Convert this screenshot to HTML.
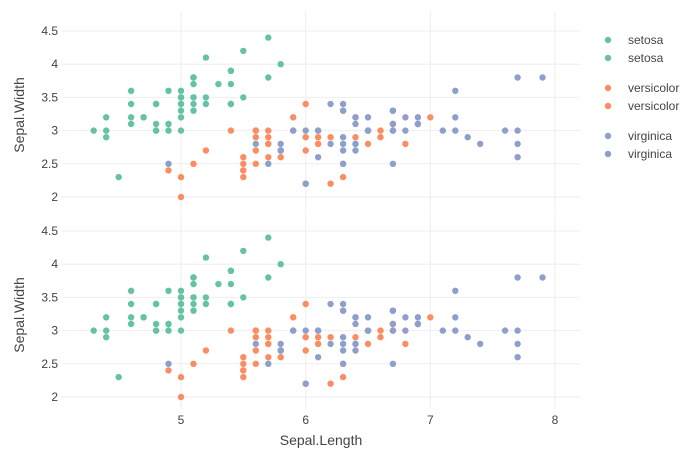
<!DOCTYPE html>
<html><head><meta charset="utf-8"><style>
body{margin:0;background:#fff}
svg text{font-family:"Liberation Sans",sans-serif;fill:#444}
</style></head><body>
<svg id="s" width="700" height="450" xmlns="http://www.w3.org/2000/svg"></svg>
<script>
var S=document.getElementById('s'),h='';
function X(v){return 181+(v-5)*124.67}
var panels=[197,397];
// grid
panels.forEach(function(b){
 [5,6,7,8].forEach(function(v){h+='<line x1="'+X(v)+'" x2="'+X(v)+'" y1="'+(b-186)+'" y2="'+(b+12)+'" stroke="#eee"/>';});
 [2,2.5,3,3.5,4,4.5].forEach(function(v){var y=b-(v-2)*66.4;h+='<line x1="62" x2="580" y1="'+y+'" y2="'+y+'" stroke="#eee"/><text x="58" y="'+(y+4)+'" font-size="12" text-anchor="end">'+v+'</text>';});
 h+='<text transform="translate(24,'+(b-82)+') rotate(-90)" font-size="14" text-anchor="middle">Sepal.Width</text>';
});
[5,6,7,8].forEach(function(v){h+='<text x="'+X(v)+'" y="424" font-size="12" text-anchor="middle">'+v+'</text>';});
h+='<text x="321" y="445" font-size="14" text-anchor="middle">Sepal.Length</text>';
var d={"#66c2a5":"5.1 3.5,4.9 3.0,4.7 3.2,4.6 3.1,5.0 3.6,5.4 3.9,4.6 3.4,5.0 3.4,4.4 2.9,4.9 3.1,5.4 3.7,4.8 3.4,4.8 3.0,4.3 3.0,5.8 4.0,5.7 4.4,5.4 3.9,5.1 3.5,5.7 3.8,5.1 3.8,5.4 3.4,5.1 3.7,4.6 3.6,5.1 3.3,4.8 3.4,5.0 3.0,5.0 3.4,5.2 3.5,5.2 3.4,4.7 3.2,4.8 3.1,5.4 3.4,5.2 4.1,5.5 4.2,4.9 3.1,5.0 3.2,5.5 3.5,4.9 3.6,4.4 3.0,5.1 3.4,5.0 3.5,4.5 2.3,4.4 3.2,5.0 3.5,5.1 3.8,4.8 3.0,5.1 3.8,4.6 3.2,5.3 3.7,5.0 3.3",
"#fc8d62":"7.0 3.2,6.4 3.2,6.9 3.1,5.5 2.3,6.5 2.8,5.7 2.8,6.3 3.3,4.9 2.4,6.6 2.9,5.2 2.7,5.0 2.0,5.9 3.0,6.0 2.2,6.1 2.9,5.6 2.9,6.7 3.1,5.6 3.0,5.8 2.7,6.2 2.2,5.6 2.5,5.9 3.2,6.1 2.8,6.3 2.5,6.1 2.8,6.4 2.9,6.6 3.0,6.8 2.8,6.7 3.0,6.0 2.9,5.7 2.6,5.5 2.4,5.5 2.4,5.8 2.7,6.0 2.7,5.4 3.0,6.0 3.4,6.7 3.1,6.3 2.3,5.6 3.0,5.5 2.5,5.5 2.6,6.1 3.0,5.8 2.6,5.0 2.3,5.6 2.7,5.7 3.0,5.7 2.9,6.2 2.9,5.1 2.5,5.7 2.8",
"#8da0cb":"6.3 3.3,5.8 2.7,7.1 3.0,6.3 2.9,6.5 3.0,7.6 3.0,4.9 2.5,7.3 2.9,6.7 2.5,7.2 3.6,6.5 3.2,6.4 2.7,6.8 3.0,5.7 2.5,5.8 2.8,6.4 3.2,6.5 3.0,7.7 3.8,7.7 2.6,6.0 2.2,6.9 3.2,5.6 2.8,7.7 2.8,6.3 2.7,6.7 3.3,7.2 3.2,6.2 2.8,6.1 3.0,6.4 2.8,7.2 3.0,7.4 2.8,7.9 3.8,6.4 2.8,6.3 2.8,6.1 2.6,7.7 3.0,6.3 3.4,6.4 3.1,6.0 3.0,6.9 3.1,6.7 3.1,6.9 3.1,5.8 2.7,6.8 3.2,6.7 3.3,6.7 3.0,6.3 2.5,6.5 3.0,6.2 3.4,5.9 3.0"};
panels.forEach(function(b){for(var c in d){d[c].split(',').forEach(function(p){var q=p.split(' ');h+='<circle cx="'+X(+q[0]).toFixed(1)+'" cy="'+(b-(q[1]-2)*66.4).toFixed(1)+'" r="3.2" fill="'+c+'"/>';});}});
var L=[["#66c2a5","setosa",40],["#66c2a5","setosa",58],["#fc8d62","versicolor",88],["#fc8d62","versicolor",106],["#8da0cb","virginica",136],["#8da0cb","virginica",154]];
L.forEach(function(l){h+='<circle cx="608" cy="'+l[2]+'" r="3.2" fill="'+l[0]+'"/><text x="628" y="'+(l[2]+4)+'" font-size="12">'+l[1]+'</text>';});
S.innerHTML=h;
</script>
</body></html>
